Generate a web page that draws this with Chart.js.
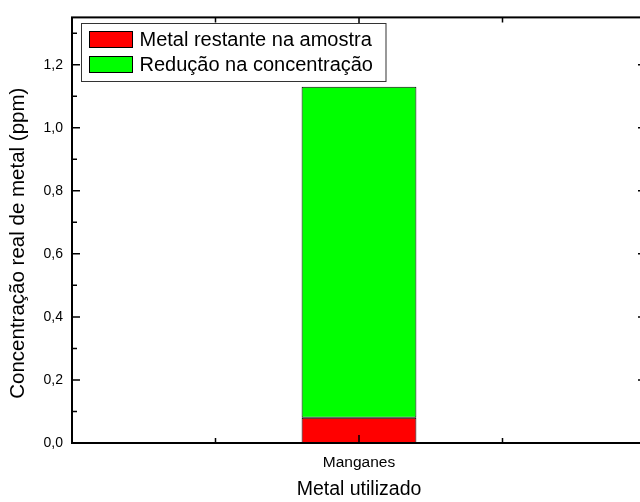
<!DOCTYPE html>
<html>
<head>
<meta charset="utf-8">
<script src="https://cdn.jsdelivr.net/npm/chart.js@4.4.0/dist/chart.umd.min.js"></script>
<style>
html,body{margin:0;padding:0;background:#fff;overflow:hidden}
canvas{display:block}
</style>
</head>
<body>
<canvas id="chart" width="660" height="502"></canvas>
<script>
// values
const categories = ['Manganes'];
const metalRestante = [0.08];
const reducaoConc = [1.05];
const yTicks = [0, 0.2, 0.4, 0.6, 0.8, 1.0, 1.2];
const yMax = 1.35;
const yTitle = 'Concentração real de metal (ppm)';

const FONT = '"Liberation Sans", Arial, sans-serif';
const fmt = v => Number(v).toFixed(1).replace('.', ',');

// Origin-style box frame with inward ticks, y title, and the boxed legend
const originFrame = {
  id: 'originFrame',
  afterDraw(chart){
    const {ctx, chartArea: a, scales: {x, y}} = chart;
    ctx.save();
    ctx.strokeStyle = '#000';
    ctx.lineWidth = 1.5;

    const hTick = (v, len) => {
      const py = y.getPixelForValue(v);
      ctx.beginPath();
      ctx.moveTo(a.left, py); ctx.lineTo(a.left + len, py);
      ctx.moveTo(a.right, py); ctx.lineTo(a.right - len, py);
      ctx.stroke();
    };
    const vTick = (v, len) => {
      const px = x.getPixelForValue(v);
      ctx.beginPath();
      ctx.moveTo(px, a.bottom); ctx.lineTo(px, a.bottom - len);
      ctx.moveTo(px, a.top); ctx.lineTo(px, a.top + len);
      ctx.stroke();
    };
    const step = yTicks[1] - yTicks[0];
    yTicks.forEach(v => hTick(v, 8));
    for (let v = step / 2; v < yMax; v += step) hTick(v, 5);
    categories.forEach((c, i) => { vTick(i, 8); vTick(i - 0.25, 5); vTick(i + 0.25, 5); });

    ctx.lineWidth = 2;
    ctx.strokeRect(a.left, a.top, a.right - a.left, a.bottom - a.top);

    // y axis title (Origin centres it a bit below the plot middle)
    ctx.save();
    ctx.translate(18, (a.top + a.bottom) / 2 + 13);
    ctx.rotate(-Math.PI / 2);
    ctx.font = '20.5px ' + FONT;
    ctx.fillStyle = '#000';
    ctx.textAlign = 'center';
    ctx.textBaseline = 'middle';
    ctx.fillText(yTitle, 0, 0);
    ctx.restore();

    // legend
    ctx.font = '20px ' + FONT;
    const items = chart.data.datasets;
    const sw = 43, sh = 16, row = 25;
    const textW = Math.max(...items.map(d => ctx.measureText(d.label).width));
    const bx = Math.round(a.left + 9) + 0.5, by = Math.round(a.top + 6) + 0.5;
    const bw = 8 + sw + 7 + textW + 13, bh = 8 + row * (items.length - 1) + sh + 9;
    ctx.fillStyle = '#fff';
    ctx.fillRect(bx, by, bw, bh);
    ctx.lineWidth = 1;
    ctx.strokeStyle = '#333';
    ctx.strokeRect(bx, by, bw, bh);
    ctx.textBaseline = 'middle';
    ctx.textAlign = 'left';
    items.forEach((d, i) => {
      const sy = by + 8 + i * row;
      ctx.fillStyle = d.backgroundColor;
      ctx.fillRect(bx + 8, sy, sw, sh);
      ctx.strokeStyle = '#000';
      ctx.strokeRect(bx + 8, sy, sw, sh);
      ctx.fillStyle = '#000';
      ctx.fillText(d.label, bx + 8 + sw + 7, sy + sh / 2 + 1);
    });
    ctx.restore();
  }
};

new Chart(document.getElementById('chart'), {
  type: 'bar',
  data: {
    labels: categories,
    datasets: [
      {label: 'Metal restante na amostra', data: metalRestante, backgroundColor: '#ff0000',
       borderColor: '#000', borderWidth: 1, borderSkipped: false, barPercentage: 0.2, categoryPercentage: 1},
      {label: 'Redução na concentração', data: reducaoConc, backgroundColor: '#00ff00',
       borderColor: '#000', borderWidth: 1, borderSkipped: false, barPercentage: 0.2, categoryPercentage: 1}
    ]
  },
  options: {
    responsive: false,
    animation: false,
    layout: {padding: {top: 15, right: 14, bottom: 0, left: 0}},
    plugins: {legend: {display: false}, tooltip: {enabled: false}},
    scales: {
      x: {
        stacked: true, offset: true,
        grid: {display: false, drawTicks: false}, border: {display: false},
        ticks: {color: '#000', font: {family: FONT, size: 15.5}, padding: 10},
        title: {display: true, text: 'Metal utilizado', color: '#000',
                font: {family: FONT, size: 19.5}, padding: {top: 0, bottom: 1}},
        afterFit(s){ s.height = 59; }
      },
      y: {
        stacked: true, min: 0, max: yMax,
        grid: {display: false, drawTicks: false}, border: {display: false},
        afterBuildTicks(s){ s.ticks = yTicks.map(v => ({value: v})); },
        ticks: {color: '#000', font: {family: FONT, size: 14}, padding: 9, callback: v => fmt(v)},
        title: {display: false},
        afterFit(s){ s.width = 72; }
      }
    }
  },
  plugins: [originFrame]
});
</script>
</body>
</html>
